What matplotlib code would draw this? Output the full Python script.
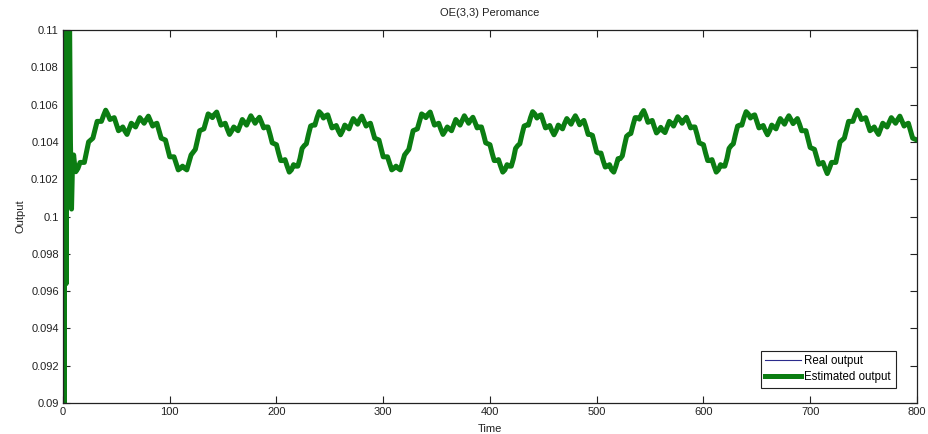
import numpy as np
import matplotlib
matplotlib.use('Agg')
import matplotlib.pyplot as plt
from matplotlib.ticker import FixedLocator, FuncFormatter

plt.rcParams['font.family'] = ['Liberation Sans', 'DejaVu Sans']

# start-up transient, one sample per time step (t = 0..12)
t_start = np.arange(0, 13)
y_start = [0.1056, 0.0870, 0.1100, 0.0964, 0.1130, 0.1010, 0.1120,
           0.1040, 0.1004, 0.1030, 0.1033, 0.1027, 0.1024]

# steady part, every 2 time steps (t = 14..800)
t_steady = np.arange(14, 801, 2)
y_steady = [
    # 14 - 110
    0.10258, 0.10290, 0.10290, 0.10290, 0.10345, 0.10400, 0.10410, 0.10420,
    0.10465, 0.10510, 0.10510, 0.10510, 0.10542, 0.10570, 0.10548, 0.10520,
    0.10525, 0.10530, 0.10495, 0.10460, 0.10468, 0.10480, 0.10458, 0.10440,
    0.10470, 0.10500, 0.10490, 0.10480, 0.10505, 0.10530, 0.10515, 0.10500,
    0.10520, 0.10538, 0.10512, 0.10485, 0.10495, 0.10500, 0.10460, 0.10420,
    0.10415, 0.10410, 0.10365, 0.10320, 0.10320, 0.10320, 0.10285, 0.10250,
    0.10258,
    # 112 - 212
    0.10270, 0.10258, 0.10250, 0.10290, 0.10330, 0.10345, 0.10360, 0.10410,
    0.10460, 0.10465, 0.10470, 0.10510, 0.10550, 0.10542, 0.10530, 0.10548,
    0.10560, 0.10525, 0.10490, 0.10495, 0.10500, 0.10468, 0.10440, 0.10458,
    0.10480, 0.10470, 0.10460, 0.10490, 0.10520, 0.10505, 0.10490, 0.10515,
    0.10540, 0.10520, 0.10500, 0.10518, 0.10532, 0.10505, 0.10475, 0.10480,
    0.10480, 0.10440, 0.10395, 0.10390, 0.10385, 0.10340, 0.10300, 0.10300,
    0.10305, 0.10270, 0.10238,
    # 214 - 310
    0.10250, 0.10278, 0.10270, 0.10270, 0.10310, 0.10365, 0.10380, 0.10390,
    0.10440, 0.10485, 0.10490, 0.10490, 0.10530, 0.10562, 0.10550, 0.10528,
    0.10540, 0.10545, 0.10510, 0.10475, 0.10480, 0.10488, 0.10460, 0.10438,
    0.10460, 0.10490, 0.10480, 0.10470, 0.10500, 0.10525, 0.10510, 0.10495,
    0.10520, 0.10538, 0.10512, 0.10485, 0.10495, 0.10500, 0.10460, 0.10420,
    0.10415, 0.10410, 0.10365, 0.10320, 0.10320, 0.10320, 0.10285, 0.10250,
    0.10258,
    # 312 - 412
    0.10270, 0.10258, 0.10250, 0.10290, 0.10330, 0.10345, 0.10360, 0.10410,
    0.10460, 0.10465, 0.10470, 0.10510, 0.10550, 0.10542, 0.10530, 0.10548,
    0.10560, 0.10525, 0.10490, 0.10495, 0.10500, 0.10468, 0.10440, 0.10458,
    0.10480, 0.10470, 0.10460, 0.10490, 0.10520, 0.10505, 0.10490, 0.10515,
    0.10540, 0.10520, 0.10500, 0.10518, 0.10532, 0.10505, 0.10475, 0.10480,
    0.10480, 0.10440, 0.10395, 0.10390, 0.10385, 0.10340, 0.10300, 0.10300,
    0.10305, 0.10270, 0.10238,
    # 414 - 512
    0.10250, 0.10278, 0.10270, 0.10270, 0.10310, 0.10365, 0.10380, 0.10390,
    0.10440, 0.10485, 0.10490, 0.10490, 0.10530, 0.10562, 0.10550, 0.10528,
    0.10540, 0.10545, 0.10510, 0.10475, 0.10480, 0.10488, 0.10460, 0.10438,
    0.10460, 0.10490, 0.10480, 0.10470, 0.10500, 0.10525, 0.10510, 0.10495,
    0.10520, 0.10540, 0.10518, 0.10492, 0.10505, 0.10515, 0.10480, 0.10440,
    0.10440, 0.10435, 0.10390, 0.10345, 0.10340, 0.10340, 0.10300, 0.10265,
    0.10270, 0.10278,
    # 514 - 612
    0.10250, 0.10238, 0.10270, 0.10310, 0.10310, 0.10325, 0.10380, 0.10430,
    0.10440, 0.10445, 0.10490, 0.10530, 0.10530, 0.10522, 0.10550, 0.10568,
    0.10540, 0.10505, 0.10510, 0.10515, 0.10480, 0.10448, 0.10460, 0.10478,
    0.10460, 0.10450, 0.10480, 0.10510, 0.10500, 0.10485, 0.10510, 0.10535,
    0.10520, 0.10500, 0.10518, 0.10532, 0.10505, 0.10475, 0.10480, 0.10480,
    0.10440, 0.10395, 0.10390, 0.10385, 0.10340, 0.10300, 0.10300, 0.10305,
    0.10270, 0.10238,
    # 614 - 714
    0.10250, 0.10278, 0.10270, 0.10270, 0.10310, 0.10365, 0.10380, 0.10390,
    0.10440, 0.10485, 0.10490, 0.10490, 0.10530, 0.10562, 0.10550, 0.10528,
    0.10540, 0.10545, 0.10510, 0.10475, 0.10480, 0.10488, 0.10460, 0.10438,
    0.10460, 0.10490, 0.10480, 0.10470, 0.10500, 0.10525, 0.10510, 0.10495,
    0.10520, 0.10540, 0.10520, 0.10498, 0.10512, 0.10525, 0.10495, 0.10460,
    0.10460, 0.10460, 0.10415, 0.10370, 0.10365, 0.10360, 0.10320, 0.10280,
    0.10285, 0.10290, 0.10258,
    # 716 - 800
    0.10230, 0.10258, 0.10290, 0.10290, 0.10290, 0.10345, 0.10400, 0.10410,
    0.10420, 0.10465, 0.10510, 0.10510, 0.10510, 0.10542, 0.10570, 0.10548,
    0.10520, 0.10525, 0.10530, 0.10495, 0.10460, 0.10468, 0.10480, 0.10458,
    0.10440, 0.10470, 0.10500, 0.10490, 0.10480, 0.10505, 0.10530, 0.10515,
    0.10500, 0.10520, 0.10538, 0.10512, 0.10485, 0.10495, 0.10500, 0.10460,
    0.10420, 0.10415, 0.10410,
]

time = np.concatenate([t_start, t_steady])
est_output = np.concatenate([y_start, y_steady])
real_output = est_output.copy()

fig = plt.figure(figsize=(9.29, 4.34), dpi=100)
ax = fig.add_axes([0.0678, 0.0714, 0.9192, 0.8595])

ax.plot(time, real_output, color='#2b2b8c', lw=0.8, label='Real output')
ax.plot(time, est_output, color='#0b7d12', lw=3.6, label='Estimated output')

ax.set_xlim(0, 800)
ax.set_ylim(0.09, 0.11)
ax.xaxis.set_major_locator(FixedLocator(np.arange(0, 801, 100)))
ax.yaxis.set_major_locator(FixedLocator(np.linspace(0.09, 0.11, 11)))
ax.yaxis.set_major_formatter(FuncFormatter(lambda v, p: '%g' % round(v, 3)))

ax.tick_params(direction='in', length=5, width=0.8, top=True, right=True,
               labelsize=8, colors='#222222', pad=3)
for s in ax.spines.values():
    s.set_linewidth(0.9)
    s.set_color('#222222')

ax.set_title('OE(3,3) Peromance', fontsize=8, pad=10, color='#222222')
ax.set_xlabel('Time', fontsize=8, labelpad=5, color='#222222')
ax.set_ylabel('Output', fontsize=8, labelpad=4, color='#222222')

leg = ax.legend(loc='lower right', bbox_to_anchor=(0.975, 0.04), fontsize=8.3,
                fancybox=False, framealpha=1, edgecolor='#222222',
                handlelength=3.1, handletextpad=0.3, borderpad=0.4,
                labelspacing=0.35, borderaxespad=0)
leg.get_frame().set_linewidth(0.8)

fig.savefig('out.png', dpi=100)
